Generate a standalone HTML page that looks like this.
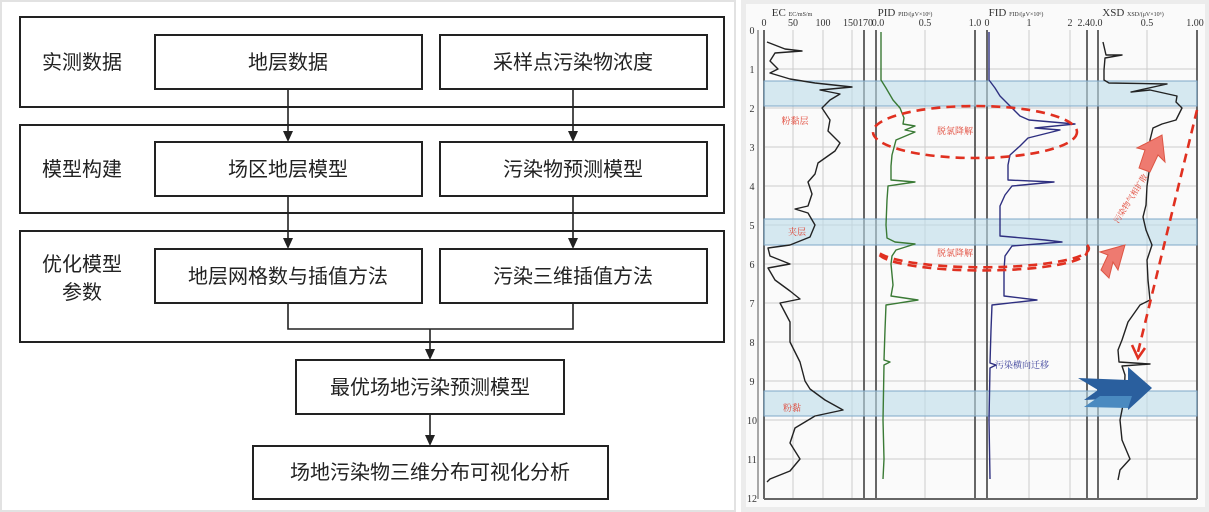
<!DOCTYPE html>
<html><head><meta charset="utf-8"><style>
body{margin:0;width:1209px;height:512px;background:#fff;overflow:hidden;font-family:"Liberation Serif","Noto Serif CJK SC",serif}
svg{position:absolute;left:0;top:0}
</style></head><body>
<svg width="1209" height="512" viewBox="0 0 1209 512">
<rect x="0" y="0" width="1209" height="512" fill="#fff"/>
<rect x="1" y="1" width="734" height="510" fill="#fff" stroke="#e2e2e2" stroke-width="2"/>
<rect x="741" y="0" width="468" height="512" fill="#ececec"/>
<rect x="746" y="4" width="459" height="503" fill="#fafafa"/>
<g fill="none" stroke="#222" stroke-width="2">
<rect x="20" y="17" width="704" height="90"/>
<rect x="20" y="125" width="704" height="88"/>
<rect x="20" y="231" width="704" height="111"/>
<rect x="155" y="35" width="267" height="54" fill="#fff"/>
<rect x="440" y="35" width="267" height="54" fill="#fff"/>
<rect x="155" y="142" width="267" height="54" fill="#fff"/>
<rect x="440" y="142" width="267" height="54" fill="#fff"/>
<rect x="155" y="249" width="267" height="54" fill="#fff"/>
<rect x="440" y="249" width="267" height="54" fill="#fff"/>
<rect x="296" y="360" width="268" height="54" fill="#fff"/>
<rect x="253" y="446" width="355" height="53" fill="#fff"/>
<path d="M288 89V134M573 89V134M288 196V241M573 196V241M288 303V329H573V303M430 329V351M430 414V437" stroke-width="1.6"/>
</g>
<g fill="#222"><path d="M283 131h10l-5 11z"/><path d="M568 131h10l-5 11z"/><path d="M283 238h10l-5 11z"/><path d="M568 238h10l-5 11z"/><path d="M425 349h10l-5 11z"/><path d="M425 435h10l-5 11z"/></g>
<g font-family="Liberation Sans,'Noto Sans CJK SC',sans-serif" font-size="20" fill="#222" text-anchor="middle">
<text x="82" y="69">实测数据</text><text x="82" y="176">模型构建</text><text x="82" y="271">优化模型</text><text x="82" y="299">参数</text>
<text x="288" y="69">地层数据</text><text x="573" y="69">采样点污染物浓度</text>
<text x="288" y="176">场区地层模型</text><text x="573" y="176">污染物预测模型</text>
<text x="288" y="283">地层网格数与插值方法</text><text x="573" y="283">污染三维插值方法</text>
<text x="430" y="394">最优场地污染预测模型</text><text x="430" y="479">场地污染物三维分布可视化分析</text>
</g>
<!-- chart -->
<g stroke="#ccc" stroke-width="1">
<path d="M764 69H1197M764 108H1197M764 147H1197M764 186H1197M764 225H1197M764 264H1197M764 303H1197M764 342H1197M764 381H1197M764 420H1197M764 459H1197"/>
<path d="M793 30V499M823 30V499M852 30V499M925 30V499M1029 30V499M1070 30V499M1147 30V499"/>
</g>
<g stroke="#666" stroke-width="2" fill="none">
<path d="M764 30V499M864 30V499M876 30V499M975 30V499M987 30V499M1087 30V499M1098 30V499M1197 30V499M764 499H1197"/>
</g>
<path d="M758 30V499" stroke="#555" stroke-width="1"/>
<g fill="#bcdcea" fill-opacity="0.6" stroke="#7fa8c8"><rect x="764" y="81" width="433" height="25"/><rect x="764" y="219" width="433" height="26"/><rect x="764" y="391" width="433" height="25"/></g>
<g font-size="10" fill="#333" text-anchor="middle">
<text x="752" y="34">0</text><text x="752" y="73">1</text><text x="752" y="112">2</text><text x="752" y="151">3</text><text x="752" y="190">4</text><text x="752" y="229">5</text><text x="752" y="268">6</text><text x="752" y="307">7</text><text x="752" y="346">8</text><text x="752" y="385">9</text><text x="752" y="424">10</text><text x="752" y="463">11</text><text x="752" y="502">12</text>
<text x="764" y="26">0</text><text x="793" y="26">50</text><text x="823" y="26">100</text><text x="858" y="26">150170</text>
<text x="878" y="26">0.0</text><text x="925" y="26">0.5</text><text x="975" y="26">1.0</text>
<text x="987" y="26">0</text><text x="1029" y="26">1</text><text x="1070" y="26">2</text><text x="1090" y="26">2.40.0</text>
<text x="1147" y="26">0.5</text><text x="1195" y="26">1.00</text>
<text x="792" y="16" font-size="11">EC <tspan font-size="6">EC/mS/m</tspan></text>
<text x="905" y="16" font-size="11">PID <tspan font-size="6">PID/(μV×10⁶)</tspan></text>
<text x="1016" y="16" font-size="11">FID <tspan font-size="6">FID/(μV×10⁶)</tspan></text>
<text x="1133" y="16" font-size="11">XSD <tspan font-size="6">XSD/(μV×10⁶)</tspan></text>
</g>
<g fill="none" stroke-width="1.4" stroke-linejoin="round">
<polyline stroke="#222" points="767,42 785,49 802,51 775,53 770,61 778,69 770,73 790,79 815,83 852,87 820,90 840,94 830,100 822,108 830,120 828,131 840,143 835,151 818,163 815,174 808,182 812,194 808,206 795,209 808,213 815,225 810,237 790,245 768,248 770,256 790,264 768,268 775,280 790,291 800,299 780,303 790,322 790,342 800,362 805,381 810,389 825,400 843,410 815,416 795,428 790,443 800,459 790,471 770,479 767,482"/>
<polyline stroke="#3a7a35" points="881,32 881,80 886,88 893,100 900,108 904,118 903,124 915,126 905,130 915,132 896,140 892,155 891,166 891,180 915,182 888,186 887,200 886,225 887,238 895,242 915,244 896,250 892,256 891,264 893,285 891,296 918,300 886,305 885,330 884,360 890,362 884,365 883,420 884,459 883,479"/>
<polyline stroke="#2e2f80" points="989,32 989,80 995,88 1000,96 1012,108 1020,116 1029,120 1075,124 1035,128 1060,130 1028,138 1020,146 1010,155 1008,165 1008,180 1054,182 1012,186 1005,195 1000,206 1000,236 1045,240 1062,242 1012,246 1005,256 1004,270 1004,296 1037,300 992,305 991,330 990,363 996,365 990,368 989,420 990,479"/>
<polyline stroke="#222" points="1103,42 1106,55 1122,55 1105,58 1104,70 1104,80 1109,83 1167,84 1131,92 1150,90 1177,96 1176,102 1182,108 1176,120 1162,124 1153,128 1150,140 1150,165 1147,186 1146,205 1143,217 1146,230 1152,245 1147,260 1148,280 1150,300 1140,305 1128,322 1122,340 1118,350 1119,362 1150,364 1122,366 1125,375 1124,400 1120,420 1122,440 1130,459 1120,470 1118,480"/>
</g>
<g fill="none" stroke="#e03020" stroke-width="2.6" stroke-dasharray="9,6">
<ellipse cx="975" cy="132" rx="102" ry="26"/>
<path d="M1087 245A102 18 0 0 1 878 252A102 18 0 0 0 1087 252"/>
<path d="M1197 110L1138 352"/>
<path d="M1132 345L1138 358L1145 348" stroke-dasharray="none"/>
</g>
<path d="M1139 168L1145 150L1137 148L1162 135L1165 162L1158 155L1150 172Z" fill="#ee7a70" stroke="#d54"/>
<path d="M1101 270L1108 255L1100 252L1125 245L1118 270L1113 262L1109 278Z" fill="#ee7a70" stroke="#d54"/>
<path d="M1078 378L1128 380L1128 367L1152 388L1128 410L1128 398L1084 400L1098 390Z" fill="#2a5f9e"/>
<path d="M1084 407L1100 396L1132 396L1128 408Z" fill="#4a8ac0"/>
<g font-family="'Noto Serif CJK SC',serif" font-size="9" fill="#e04030" text-anchor="middle">
<text x="795" y="124">粉黏层</text><text x="797" y="235">夹层</text><text x="792" y="411">粉黏</text>
<text x="955" y="134">脱氯降解</text><text x="955" y="256">脱氯降解</text>
<text transform="translate(1133,200) rotate(-58)" font-size="8">污染物气相扩散</text>
<text x="1022" y="368" fill="#3a3f9a">污染横向迁移</text>
</g>
</svg>
</body></html>
